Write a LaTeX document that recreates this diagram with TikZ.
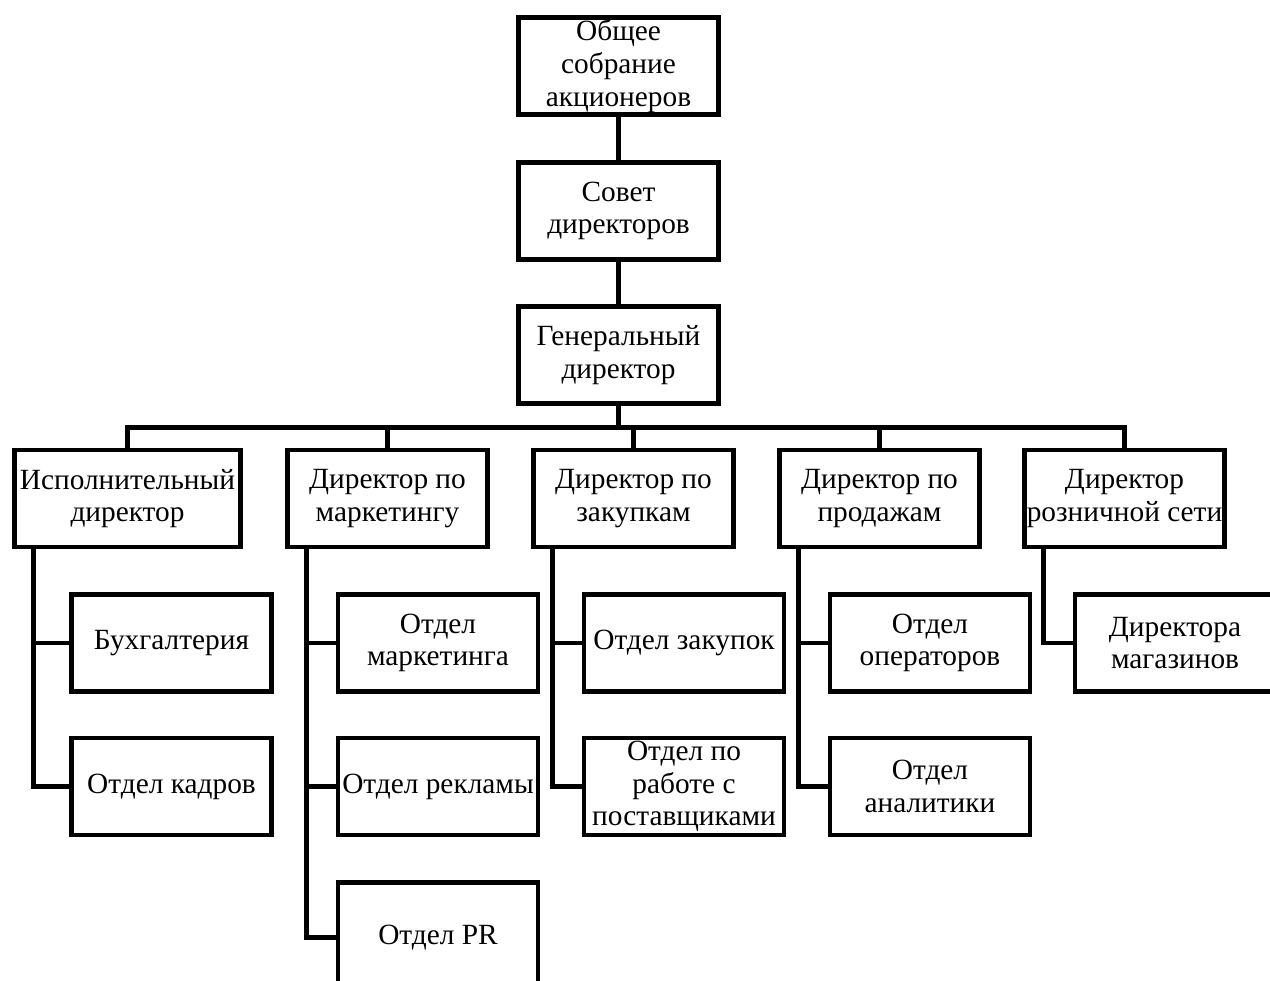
\documentclass[tikz,border=0pt]{standalone}
\usepackage{fontspec}
\setmainfont{Liberation Serif}
\usetikzlibrary{calc}

\begin{document}
\begin{tikzpicture}[x=0.02cm, y=-0.02cm, line width=2.8pt, font=\fontsize{16.7}{18.6}\selectfont,
	box/.style={draw, align=center, minimum width=4cm, minimum height=1.94cm, inner sep=1pt}]
	\useasboundingbox (0,0) rectangle (1270,980);
	\node[box] (osa) at (618.5,66) {Общее\\собрание\\акционеров};
	\node[box] (sovet) at (618.5,211) {Совет\\директоров};
	\node[box] (gendir) at (618.5,355) {Генеральный\\директор};
	\node[box, minimum width=4.52cm] (ispdir) at (127.5,498.5) {Исполнительный\\директор};
	\node[box] (mktdir) at (387.5,498.5) {Директор по\\маркетингу};
	\node[box] (zakdir) at (633.5,498.5) {Директор по\\закупкам};
	\node[box] (proddir) at (879.5,498.5) {Директор по\\продажам};
	\node[box] (rozndir) at (1124.5,498.5) {Директор\\розничной сети};
	\node[box] (buh) at (171.5,643) {Бухгалтерия};
	\node[box] (kadry) at (171.5,786.5) {Отдел кадров};
	\node[box] (otmkt) at (438,643) {Отдел\\маркетинга};
	\node[box] (reklama) at (438,786.5) {Отдел рекламы};
	\node[box, minimum height=2.2cm] (pr) at (438,937.5) {Отдел PR};
	\node[box] (otzak) at (684,643) {Отдел закупок};
	\node[box] (postav) at (684,786.5) {Отдел по\\работе с\\поставщиками};
	\node[box] (operat) at (930,643) {Отдел\\операторов};
	\node[box] (analit) at (930,786.5) {Отдел\\аналитики};
	\node[box] (magaz) at (1175,643) {Директора\\магазинов};
	\draw (osa) -- (sovet);
	\draw (sovet) -- (gendir);
	\coordinate (bus) at ($(gendir.south)+(0,22)$);
	\foreach \d in {ispdir,mktdir,zakdir,proddir,rozndir}
	\draw (gendir.south) -- (bus) -| (\d.north);
	\foreach \d/\s in {ispdir/buh,ispdir/kadry,mktdir/otmkt,mktdir/reklama,mktdir/pr,zakdir/otzak,zakdir/postav,proddir/operat,proddir/analit,rozndir/magaz}
	\draw ($(\d.south west)+(21,0)$) |- (\s.west);
\end{tikzpicture}
\end{document}
